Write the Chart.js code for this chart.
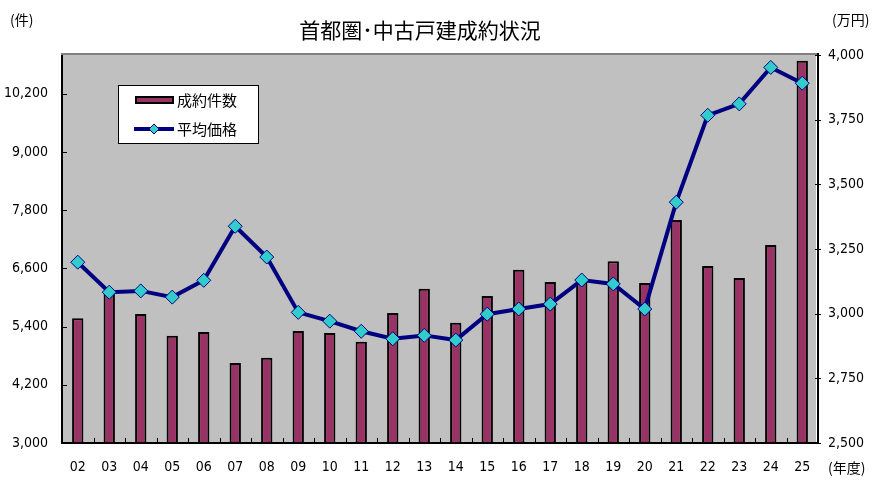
<!DOCTYPE html>
<html><head><meta charset="utf-8">
<script src="https://cdn.jsdelivr.net/npm/chart.js@4/dist/chart.umd.min.js"></script>
<style>html,body{margin:0;padding:0;background:#fff;}#wrap{width:880px;height:490px;position:relative;}</style>
</head><body><div id="wrap"><canvas id="c" width="880" height="490"></canvas></div>
<script>
const categories = ["02","03","04","05","06","07","08","09","10","11","12","13","14","15","16","17","18","19","20","21","22","23","24","25"];
const contracts = [5570,6120,5660,5210,5290,4650,4760,5310,5270,5090,5680,6180,5480,6030,6570,6320,6330,6750,6300,7600,6650,6400,7080,10880];
const avgPrice = [3199,3083,3088,3064,3129,3338,3219,3005,2971,2932,2903,2916,2898,2998,3018,3037,3130,3115,3018,3431,3767,3811,3952,3891];
const leftTicks = [3000,4200,5400,6600,7800,9000,10200];
const rightTicks = [2500,2750,3000,3250,3500,3750,4000];
const titleText = "首都圏･中古戸建成約状況";
const leftUnit = "(件)", rightUnit = "(万円)", xUnit = "(年度)";
const seriesNames = ["成約件数","平均価格"];

const labelFont = '"Liberation Sans Narrow","DejaVu Sans Condensed","Liberation Sans",sans-serif';
const cjkFont = '"Noto Sans CJK JP","Noto Sans CJK SC",sans-serif';

const deco = {
  id:'deco',
  beforeDraw(chart){
    const {ctx, chartArea:a} = chart;
    ctx.save();
    ctx.fillStyle = '#C0C0C0';
    ctx.fillRect(a.left, a.top, a.right-a.left-2, a.bottom-a.top);
    ctx.restore();
  },
  afterDatasetsDraw(chart){
    const {ctx, chartArea:a, scales} = chart;
    ctx.save();
    ctx.strokeStyle = '#808080'; ctx.lineWidth = 2;
    ctx.beginPath(); ctx.moveTo(a.left-1, a.top-1); ctx.lineTo(a.right, a.top-1); ctx.stroke();
    ctx.strokeStyle = '#000'; ctx.lineWidth = 2;
    ctx.beginPath();
    ctx.moveTo(a.left, a.top); ctx.lineTo(a.left, a.bottom); ctx.lineTo(a.right, a.bottom); ctx.lineTo(a.right, a.top-2);
    ctx.stroke();
    ctx.lineWidth = 1;
    leftTicks.forEach(v=>{const y=Math.round(scales.y.getPixelForValue(v))+0.5; ctx.beginPath(); ctx.moveTo(a.left,y); ctx.lineTo(a.left+5,y); ctx.stroke();});
    rightTicks.forEach(v=>{const y=Math.round(scales.y2.getPixelForValue(v))+0.5; ctx.beginPath(); ctx.moveTo(a.right-3,y); ctx.lineTo(a.right+3,y); ctx.stroke();});
    const n = categories.length, w = (a.right-a.left)/n;
    for(let i=1;i<n;i++){const x=Math.round(a.left+i*w)+0.5; ctx.beginPath(); ctx.moveTo(x,a.bottom); ctx.lineTo(x,a.bottom-5); ctx.stroke();}
    ctx.restore();
  },
  afterDraw(chart){
    const {ctx} = chart;
    ctx.save();
    ctx.fillStyle = '#000';
    ctx.textBaseline = 'middle';
    ctx.textAlign = 'center';
    ctx.font = '21px ' + cjkFont;
    ctx.fillText(titleText, 420, 30);
    ctx.font = '14px ' + cjkFont;
    ctx.textAlign = 'left';
    ctx.fillText(leftUnit, 10, 20);
    ctx.fillText(rightUnit, 832, 20);
    ctx.fillText(xUnit, 828, 468);
    const lx=118, ly=85, lw=140, lh=58;
    ctx.fillStyle='#fff'; ctx.fillRect(lx,ly,lw,lh);
    ctx.strokeStyle='#000'; ctx.lineWidth=1; ctx.strokeRect(lx+0.5,ly+0.5,lw,lh);
    ctx.fillStyle='#993366'; ctx.fillRect(136,97,37,6);
    ctx.lineWidth=2; ctx.strokeRect(136,97,37,6);
    ctx.strokeStyle='#000080'; ctx.lineWidth=4;
    ctx.beginPath(); ctx.moveTo(134,129); ctx.lineTo(174,129); ctx.stroke();
    ctx.fillStyle='#33CCCC'; ctx.lineWidth=1;
    ctx.beginPath(); ctx.moveTo(154,124); ctx.lineTo(159,129); ctx.lineTo(154,134); ctx.lineTo(149,129); ctx.closePath(); ctx.fill(); ctx.stroke();
    ctx.fillStyle='#000'; ctx.font='15px ' + cjkFont; ctx.textAlign='left';
    ctx.fillText(seriesNames[0], 177, 100);
    ctx.fillText(seriesNames[1], 177, 129);
    ctx.restore();
  }
};

new Chart(document.getElementById('c'), {
  data: {
    labels: categories,
    datasets: [
      {type:'line', label:seriesNames[1], data:avgPrice, yAxisID:'y2', order:1,
       borderColor:'#000080', borderWidth:4, tension:0,
       pointStyle:'rectRot', pointRadius:7, pointBackgroundColor:'#33CCCC', pointBorderColor:'#000080', pointBorderWidth:1},
      {type:'bar', label:seriesNames[0], data:contracts, yAxisID:'y', order:2,
       backgroundColor:'#993366', borderColor:'#000', borderWidth:2,
       barPercentage:0.36, categoryPercentage:1}
    ]
  },
  options: {
    responsive:false, animation:false,
    layout:{padding:{top:55, left:0, right:0, bottom:0}},
    plugins:{legend:{display:false}, title:{display:false}, tooltip:{enabled:false}},
    scales:{
      x:{offset:true, grid:{display:false}, border:{display:false},
         ticks:{font:{family:labelFont, size:14}, color:'#000', padding:8, maxRotation:0, autoSkip:false},
         afterFit(s){s.height=47;}},
      y:{position:'left', min:3000, max:11000, grid:{display:false}, border:{display:false},
         afterBuildTicks(s){s.ticks = leftTicks.map(v=>({value:v}));},
         ticks:{font:{family:labelFont, size:14}, color:'#000', padding:6, callback:v=>v.toLocaleString('en-US')},
         afterFit(s){s.width=62;}},
      y2:{position:'right', min:2500, max:4000, grid:{display:false}, border:{display:false},
         afterBuildTicks(s){s.ticks = rightTicks.map(v=>({value:v}));},
         ticks:{font:{family:labelFont, size:14}, color:'#000', padding:2, callback:v=>v.toLocaleString('en-US')},
         afterFit(s){s.width=62;}}
    }
  },
  plugins:[deco]
});
</script></body></html>
